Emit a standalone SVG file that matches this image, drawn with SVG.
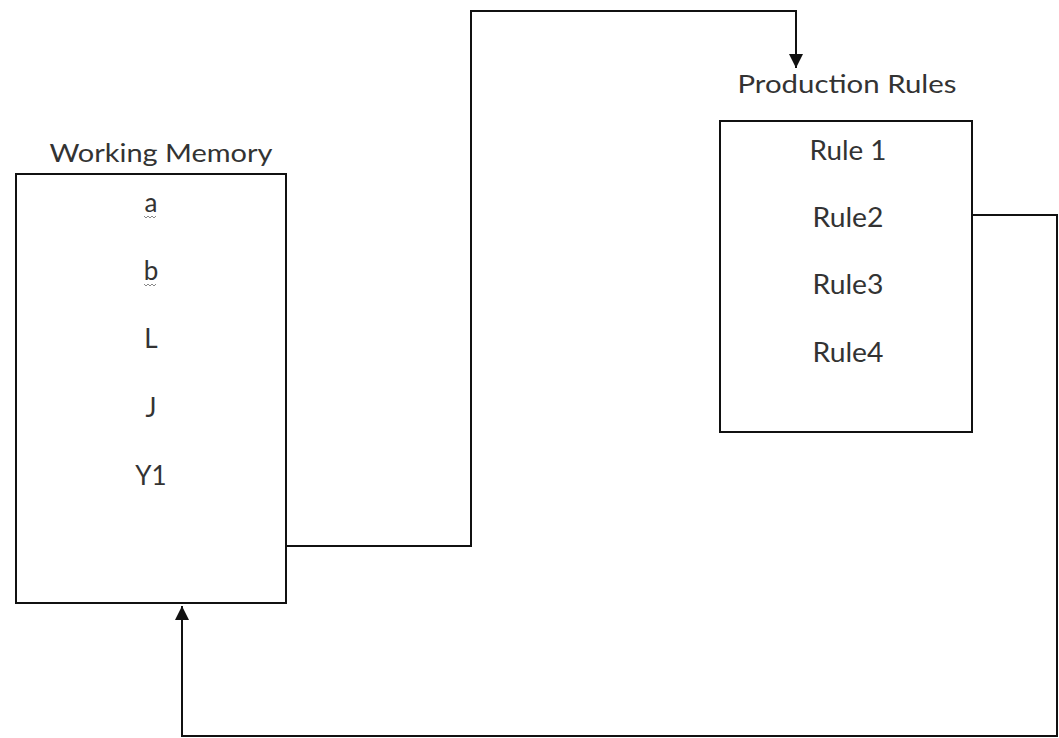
<svg xmlns="http://www.w3.org/2000/svg" width="1059" height="738" viewBox="0 0 1059 738">
<defs>
<style>
.box{fill:#fff;stroke:#111;stroke-width:2}
.t{font-family:Lato,"Open Sans","Liberation Sans",sans-serif;fill:#333;text-anchor:middle}
.title{font-size:25px}
.item{font-size:26px}
.conn{fill:none;stroke:#111;stroke-width:2}
.sq{fill:none;stroke:#888;stroke-width:1}
</style>
<marker id="arr" markerUnits="userSpaceOnUse" markerWidth="16" markerHeight="16" viewBox="0 0 16 16" refX="14" refY="8" orient="auto">
<path d="M0,1 L14,8 L0,15 Z" fill="#111"/>
</marker>
</defs>
<rect width="1059" height="738" fill="#fff"/>
<g id="connectors">
<polyline class="conn" points="286,546 471,546 471,11 796,11 796,68" marker-end="url(#arr)"/>
<polyline class="conn" points="972,215 1057,215 1057,736 182,736 182,606" marker-end="url(#arr)"/>
</g>
<g id="working-memory">
<text class="t title" x="161" y="162" textLength="223" lengthAdjust="spacingAndGlyphs">Working  Memory</text>
<rect class="box" x="16" y="174" width="270" height="429"/>
<text class="t item" x="151" y="212">a</text>
<polyline class="sq" points="144,216 146,218 148,216 150,218 152,216 154,218 156,216"/>
<text class="t item" x="151" y="280">b</text>
<polyline class="sq" points="144,284 146,286 148,284 150,286 152,284 154,286 156,284"/>
<text class="t item" x="151" y="348">L</text>
<text class="t item" x="151" y="417">J</text>
<text class="t item" x="151" y="485">Y1</text>
</g>
<g id="production-rules">
<text class="t title" x="847" y="93" textLength="219" lengthAdjust="spacingAndGlyphs">Production  Rules</text>
<rect class="box" x="720" y="121" width="252" height="311"/>
<text class="t item" x="848" y="160" textLength="77" lengthAdjust="spacingAndGlyphs">Rule 1</text>
<text class="t item" x="848" y="227" textLength="71" lengthAdjust="spacingAndGlyphs">Rule2</text>
<text class="t item" x="848" y="294" textLength="71" lengthAdjust="spacingAndGlyphs">Rule3</text>
<text class="t item" x="848" y="362" textLength="71" lengthAdjust="spacingAndGlyphs">Rule4</text>
</g>
</svg>
